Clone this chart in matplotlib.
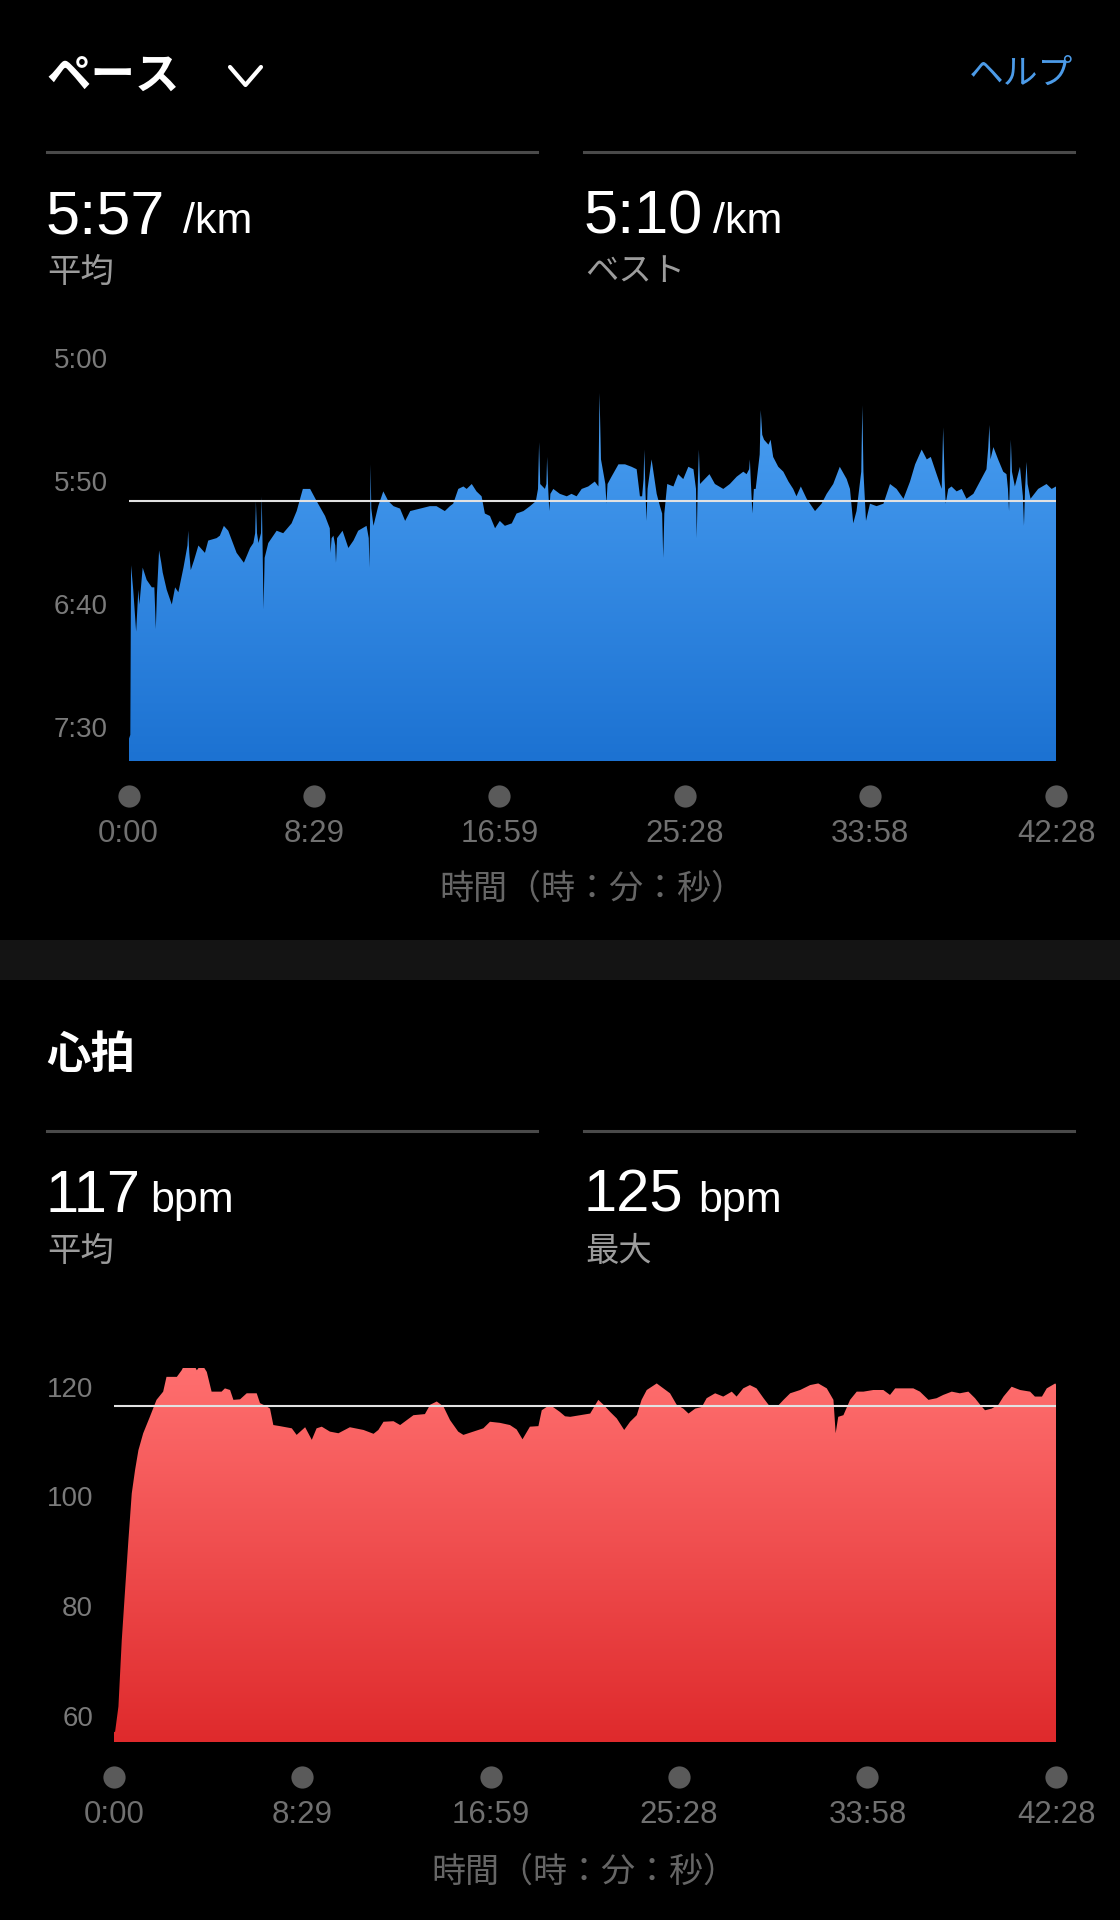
import numpy as np
import matplotlib
matplotlib.use("Agg")
import matplotlib.pyplot as plt
from matplotlib.colors import LinearSegmentedColormap
from matplotlib.lines import Line2D
import matplotlib.transforms as mtransforms

# ---------------- data ----------------
pace_time_s = [0, 5, 7, 13, 21, 27, 30, 39, 50, 64, 71, 73, 75, 78, 84, 90, 94, 105, 119, 128, 137, 151,
               162, 164, 167, 171, 180, 192, 210, 219, 242, 251, 262, 274, 297, 317, 334, 343,
               348, 350, 353, 357, 364, 366, 368, 371, 374, 384, 407, 425, 448, 462, 479, 499, 517,
               540, 553, 555, 558, 563, 568, 570, 573, 588, 604, 618, 631, 654, 660, 662, 664, 665, 667,
               673, 686, 700, 714, 728, 746, 760, 774, 801, 828,
               846, 869, 883, 892, 906, 920, 929, 943, 956, 970, 979, 993, 1007, 1020, 1034, 1053,
               1066, 1085, 1103, 1119, 1125, 1128, 1131, 1144, 1148, 1150, 1153, 1156, 1159, 1167,
               1185, 1204, 1217, 1231, 1245, 1263, 1281, 1291, 1294, 1298, 1310, 1313, 1316, 1327,
               1346, 1364, 1382, 1396, 1405, 1411, 1415, 1417, 1420, 1423, 1426, 1437, 1451, 1460,
               1466, 1469, 1472, 1480, 1497, 1510, 1524, 1538, 1552, 1559, 1561, 1564, 1567, 1570,
               1596, 1611, 1634, 1652, 1671, 1689, 1698, 1705, 1707, 1710, 1714, 1718, 1723, 1734,
               1737, 1741, 1746, 1758, 1764, 1771, 1785, 1799, 1813, 1826, 1835, 1847, 1863, 1886,
               1904, 1918, 1936, 1954, 1973, 1982, 1991, 2000, 2013, 2016, 2019, 2026, 2037, 2055,
               2074, 2092, 2110, 2129, 2147, 2161, 2179, 2193, 2204, 2220, 2234, 2238, 2242, 2245,
               2252, 2261, 2275, 2289, 2302, 2321, 2339, 2357, 2362, 2365, 2368, 2376, 2389, 2403,
               2412, 2416, 2419, 2422, 2424, 2427, 2435, 2449, 2457, 2460, 2463, 2467, 2470, 2478,
               2499, 2522, 2536, 2548]
pace_s = [454, 452, 383, 393, 410, 393, 399, 384, 389, 392, 392, 400, 409, 395, 377, 382, 386, 393, 399, 392, 394, 384,
          375, 369, 378, 385, 381, 375, 378, 373, 372, 371, 367, 369, 378, 382, 376, 374,
          370, 357, 370, 374, 370, 355, 372, 401, 380, 374, 369, 370, 366, 361, 352, 352, 357,
          363, 368, 378, 372, 371, 375, 382, 372, 369, 376, 373, 369, 367, 372, 384, 360, 342, 360,
          367, 359, 353, 357, 359, 360, 365, 361, 360, 359,
          359, 361, 359, 358, 352, 351, 352, 350, 353, 355, 362, 363, 368, 365, 367, 366,
          362, 361, 359, 357, 352, 333, 350, 352, 350, 339, 352, 361, 354, 352,
          354, 355, 354, 355, 352, 351, 349, 351, 313, 340, 350, 358, 350, 347,
          342, 342, 343, 344, 355, 355, 348, 336, 352, 365, 352, 340, 354, 359,
          362, 380, 362, 350, 351, 346, 348, 343, 344, 352, 372, 350, 336, 350,
          346, 350, 352, 350, 347, 345, 346, 344, 340, 350, 362, 352, 352, 338,
          320, 330, 332, 334, 332, 339, 343, 345, 349, 352, 355, 351, 356, 361,
          358, 354, 350, 343, 348, 352, 366, 361, 345, 318, 345, 365, 358, 359,
          358, 350, 352, 356, 349, 342, 336, 340, 339, 346, 352, 327, 348, 358,
          352, 351, 353, 352, 356, 354, 349, 344, 335, 326, 340, 335, 340, 345,
          346, 352, 361, 345, 332, 345, 351, 343, 355, 367, 352, 341, 350, 356,
          352, 350, 352, 351]

hr_time_s = [0, 3, 12, 21, 30, 39, 48, 57, 66, 79, 97, 115, 133, 142, 170, 183, 192, 215, 224, 237, 251,
             264, 291, 300, 314, 323, 341, 359, 386, 395, 413, 422, 431, 449, 481, 494, 517, 535, 548,
             562, 584, 607, 638, 675, 702, 715, 729, 756, 774, 792, 810, 841, 855, 873, 891, 909, 931,
             945, 972, 999, 1017, 1044, 1071, 1089, 1105, 1125, 1148, 1157, 1179, 1206, 1220, 1234,
             1261, 1288, 1310, 1324, 1342, 1360, 1380, 1396, 1414, 1427, 1441, 1468, 1486, 1504, 1522,
             1540, 1554, 1572, 1590, 1603, 1626, 1648, 1671, 1684, 1702, 1720, 1738, 1757, 1775, 1793,
             1811, 1829, 1856, 1883, 1905, 1928, 1946, 1952, 1959, 1973, 1991, 2009, 2027, 2054, 2081,
             2099, 2113, 2135, 2162, 2180, 2203, 2225, 2243, 2266, 2288, 2311, 2329, 2343, 2356, 2374,
             2392, 2406, 2428, 2451, 2478, 2491, 2510, 2523, 2546, 2548]
hr_bpm = [57.5, 57.6, 62.2, 74.3, 83.5, 92.6, 101.1, 105.4, 109, 112.1, 115.1, 118.2, 119.7, 122.4, 122.4,
          123.6, 124.8, 124.8, 123.6, 124.8, 123.3,
          119.7, 119.7, 120.3, 120, 118.2, 118.3, 119.4, 119.4, 117.6, 117, 116.6, 113.6, 113.4, 113, 111.8,
          113.2, 110.9, 113, 113.3, 112.4, 112.1, 113.2, 112.7, 112, 112.7, 114.2, 114.3, 113.6, 114.5,
          115.4, 115.6, 117.3, 117.9, 117, 114.5, 112.4, 111.8, 112.4, 113, 114.2, 114, 113.6, 112.8,
          111, 113.3, 113.4, 116.3, 117.3, 116, 115.2, 115.1, 115.4, 115.7, 118.2, 117.3, 116, 114.8,
          112.7, 114.2, 115.4, 118.2, 120, 121.2, 120.3, 119.4, 117.3, 116.6, 115.7, 116.6, 116.9,
          118.5, 119.4, 118.8, 119.7, 118.8, 120.3, 120.9, 120.3, 118.5, 116.9, 116.9, 118.2, 119.4,
          120, 120.9, 121.2, 120.3, 118.2, 112.1, 115.1, 115.4, 118.2, 119.7, 119.7, 120, 120, 119.1,
          120.3, 120.3, 120.3, 119.7, 118.2, 118.5, 119.1, 119.7, 119.4, 119.7, 118.5, 117.3, 116.3,
          116.6, 117.3, 118.8, 120.6, 120, 119.7, 118.8, 118.8, 120.3, 121.2, 121]

pace_avg = 357      # 5:57 /km
hr_avg = 117
x_ticks_s = [0, 509, 1019, 1528, 2038, 2548]
x_tick_labels = ["0:00", "8:29", "16:59", "25:28", "33:58", "42:28"]
pace_yticks = [300, 350, 400, 450]
pace_ytick_labels = ["5:00", "5:50", "6:40", "7:30"]
hr_yticks = [120, 100, 80, 60]
hr_ytick_labels = ["120", "100", "80", "60"]

# ---------------- figure ----------------
W, H = 1120, 1920
fig = plt.figure(figsize=(W / 100, H / 100), dpi=100, facecolor="black")

JP = ["Noto Sans CJK JP", "DejaVu Sans"]
NUM = ["Liberation Sans", "DejaVu Sans"]


def fx(x):
    return x / W


def fy(y):
    return 1 - y / H


def ftext(x, y, s, **kw):
    fig.text(fx(x), fy(y), s, **kw)


def hline(x0, x1, y, color="#4a4a4a", lw=2.2):
    fig.add_artist(Line2D([fx(x0), fx(x1)], [fy(y), fy(y)], transform=fig.transFigure,
                          color=color, lw=lw))


def gradient_fill(ax, t, v, base, top_val, c_top, c_bot):
    poly = ax.fill_between(t, v, base, facecolor="none", edgecolor="none")
    path = poly.get_paths()[0]
    cmap = LinearSegmentedColormap.from_list("g", [c_bot, c_top])
    grad = np.linspace(0, 1, 256).reshape(-1, 1)
    im = ax.imshow(grad, cmap=cmap, aspect="auto", origin="lower",
                   extent=[t[0], t[-1], base, top_val], zorder=2, interpolation="bicubic")
    im.set_clip_path(path, transform=ax.transData)


def chart(ax_rect, t, v, ylim, grad_top, c_top, c_bot, avg, yticks, ylabels, ylab_x,
          dot_y, lab_y, title_y, title_x):
    ax = fig.add_axes(ax_rect)
    ax.set_facecolor("black")
    gradient_fill(ax, t, v, ylim[0], grad_top, c_top, c_bot)
    ax.axhline(avg, color="#e2e2e2", lw=1.5, zorder=3)
    ax.set_xlim(0, t[-1])
    ax.set_ylim(*ylim)
    ax.axis("off")
    trans_x = mtransforms.blended_transform_factory(ax.transData, fig.transFigure)
    trans_y = mtransforms.blended_transform_factory(fig.transFigure, ax.transData)
    ax.plot(x_ticks_s, [fy(dot_y)] * len(x_ticks_s), "o", transform=trans_x, ms=16,
            color="#5a5a5a", clip_on=False, mec="none")
    for tk, lb in zip(x_ticks_s, x_tick_labels):
        ax.text(tk, fy(lab_y), lb, transform=trans_x, ha="center", va="center",
                fontsize=22.5, color="#707070", family=NUM)
    for yv, lb in zip(yticks, ylabels):
        ax.text(fx(ylab_x), yv, lb, transform=trans_y, ha="right", va="center",
                fontsize=20, color="#7a7a7a", family=NUM)
    ftext(title_x, title_y, "時間（時：分：秒）", ha="center", va="center", fontsize=24.5,
          color="#666666", family=JP)
    ax.set_xlim(0, t[-1])
    ax.set_ylim(*ylim)
    return ax


# ---------------- pace section ----------------
ftext(46, 76, "ペース", ha="left", va="center", fontsize=32, fontweight="bold", color="white", family=JP)
fig.add_artist(Line2D([fx(230), fx(245.5), fx(261)], [fy(67), fy(85), fy(67)],
                      transform=fig.transFigure, color="white", lw=3,
                      solid_capstyle="round", solid_joinstyle="round"))
ftext(1073, 74, "ヘルプ", ha="right", va="center", fontsize=25, color="#4c9be8", family=JP)
hline(47, 537, 152)
hline(584, 1074, 152)
ftext(46, 233, "5:57", ha="left", va="baseline", fontsize=44, color="white", family=NUM)
ftext(183, 233, "/km", ha="left", va="baseline", fontsize=31, color="white", family=NUM)
ftext(584, 233, "5:10", ha="left", va="baseline", fontsize=44, color="white", family=NUM)
ftext(713, 233, "/km", ha="left", va="baseline", fontsize=31, color="white", family=NUM)
ftext(47, 272, "平均", ha="left", va="center", fontsize=24, color="#9c9c9c", family=JP)
ftext(585, 272, "ベスト", ha="left", va="center", fontsize=24, color="#9c9c9c", family=JP)

p_top_px, p_bot_px = 330, 761
pace_ylim = (300 + (p_bot_px - 361) / 2.46, 300 - (361 - p_top_px) / 2.46)
chart([fx(128.5), fy(p_bot_px), fx(1056) - fx(128.5), (p_bot_px - p_top_px) / H],
      pace_time_s, pace_s, pace_ylim, 312, "#4a9ff2", "#1c72d2", pace_avg,
      pace_yticks, pace_ytick_labels, 108, 796, 834, 889, 592)

# separator band
fig.add_artist(plt.Rectangle((0, fy(980)), 1, (980 - 940) / H, transform=fig.transFigure,
                             facecolor="#141414", edgecolor="none"))

# ---------------- heart section ----------------
ftext(46, 1055, "心拍", ha="left", va="center", fontsize=32, fontweight="bold", color="white", family=JP)
hline(47, 537, 1131)
hline(584, 1074, 1131)
ftext(46, 1212, "117", ha="left", va="baseline", fontsize=43, color="white", family=NUM)
ftext(150, 1212, "bpm", ha="left", va="baseline", fontsize=31, color="white", family=NUM)
ftext(584, 1212, "125", ha="left", va="baseline", fontsize=43, color="white", family=NUM)
ftext(698, 1212, "bpm", ha="left", va="baseline", fontsize=31, color="white", family=NUM)
ftext(47, 1251, "平均", ha="left", va="center", fontsize=24, color="#9c9c9c", family=JP)
ftext(585, 1251, "最大", ha="left", va="center", fontsize=24, color="#9c9c9c", family=JP)

h_top_px, h_bot_px = 1340, 1742
hr_ylim = (120 - (h_bot_px - 1390) / 5.475, 120 + (1390 - h_top_px) / 5.475)
chart([fx(114), fy(h_bot_px), fx(1056) - fx(114), (h_bot_px - h_top_px) / H],
      hr_time_s, hr_bpm, hr_ylim, 124, "#ff6f6f", "#df2a2c", hr_avg,
      hr_yticks, hr_ytick_labels, 93, 1777, 1815, 1872, 584)

fig.savefig("out.png", dpi=100, facecolor="black")
